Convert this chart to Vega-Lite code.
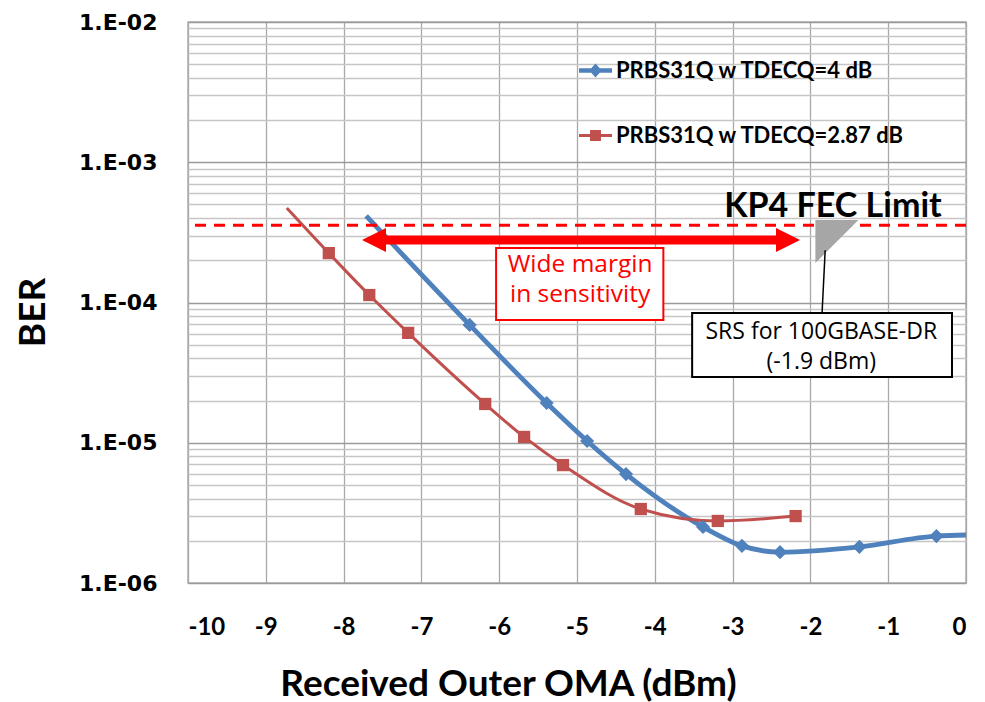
{
  "$schema": "https://vega.github.io/schema/vega-lite/v6.json",
  "autosize": {"type": "none"},
  "padding": {"left": 188, "top": 22, "right": 19, "bottom": 119},
  "width": 778,
  "height": 561,
  "background": "white",
  "config": {
    "view": {"stroke": "#b0b0b0", "strokeWidth": 1.5},
    "font": "Lato"
  },
  "datasets": {
    "curves": [
      {"series": "PRBS31Q w TDECQ=4 dB", "x": -7.71, "ber": 4.14e-4},
      {"series": "PRBS31Q w TDECQ=4 dB", "x": -6.38, "ber": 6.92e-5},
      {"series": "PRBS31Q w TDECQ=4 dB", "x": -5.39, "ber": 1.92e-5},
      {"series": "PRBS31Q w TDECQ=4 dB", "x": -4.87, "ber": 1.03e-5},
      {"series": "PRBS31Q w TDECQ=4 dB", "x": -4.37, "ber": 5.98e-6},
      {"series": "PRBS31Q w TDECQ=4 dB", "x": -3.38, "ber": 2.51e-6},
      {"series": "PRBS31Q w TDECQ=4 dB", "x": -2.88, "ber": 1.84e-6},
      {"series": "PRBS31Q w TDECQ=4 dB", "x": -2.39, "ber": 1.66e-6},
      {"series": "PRBS31Q w TDECQ=4 dB", "x": -1.37, "ber": 1.81e-6},
      {"series": "PRBS31Q w TDECQ=4 dB", "x": -0.38, "ber": 2.16e-6},
      {"series": "PRBS31Q w TDECQ=4 dB", "x": 0.4, "ber": 2.22e-6},
      {"series": "PRBS31Q w TDECQ=2.87 dB", "x": -8.73, "ber": 4.72e-4},
      {"series": "PRBS31Q w TDECQ=2.87 dB", "x": -8.19, "ber": 2.25e-4},
      {"series": "PRBS31Q w TDECQ=2.87 dB", "x": -7.67, "ber": 1.13e-4},
      {"series": "PRBS31Q w TDECQ=2.87 dB", "x": -7.17, "ber": 6.07e-5},
      {"series": "PRBS31Q w TDECQ=2.87 dB", "x": -6.18, "ber": 1.89e-5},
      {"series": "PRBS31Q w TDECQ=2.87 dB", "x": -5.68, "ber": 1.1e-5},
      {"series": "PRBS31Q w TDECQ=2.87 dB", "x": -5.18, "ber": 6.93e-6},
      {"series": "PRBS31Q w TDECQ=2.87 dB", "x": -4.18, "ber": 3.37e-6},
      {"series": "PRBS31Q w TDECQ=2.87 dB", "x": -3.19, "ber": 2.77e-6},
      {"series": "PRBS31Q w TDECQ=2.87 dB", "x": -2.19, "ber": 3.0e-6}
    ]
  },
  "layer": [
    {
      "data": {"name": "curves"},
      "transform": [{"filter": "datum.series === 'PRBS31Q w TDECQ=4 dB'"}],
      "mark": {"type": "line", "interpolate": "monotone", "clip": true, "strokeWidth": 4.8},
      "encoding": {
        "x": {
          "field": "x", "type": "quantitative",
          "scale": {"domain": [-10, 0], "nice": false, "zero": false},
          "axis": {
            "title": "Received Outer OMA (dBm)",
            "values": [-10, -9.5, -9, -8.5, -8, -7.5, -7, -6.5, -6, -5.5, -5, -4.5, -4, -3.5, -3, -2.5, -2, -1.5, -1, -0.5, 0],
            "labelExpr": "datum.value % 1 === 0 ? '' + datum.value : ''",
            "labelOverlap": false,
            "labelFont": "Lato", "labelFontSize": 24, "labelFontWeight": "bold", "labelColor": "#000",
            "labelPadding": 32,
            "ticks": false, "domain": false,
            "grid": true,
            "gridColor": {"condition": {"test": "datum.value % 1 === 0", "value": "#a8a8a8"}, "value": "#dcdcdc"},
            "gridWidth": 1.3,
            "titleFont": "Lato", "titleFontSize": 37, "titleFontWeight": "bold", "titleColor": "#000",
            "titleX": 320, "titleY": 101, "titleBaseline": "middle", "titleAnchor": "middle"
          }
        },
        "y": {
          "field": "ber", "type": "quantitative",
          "scale": {"type": "log", "domain": [1e-6, 1e-2], "nice": false},
          "axis": {
            "title": "BER",
            "values": [1e-6, 2e-6, 3e-6, 4e-6, 5e-6, 6e-6, 7e-6, 8e-6, 9e-6, 1e-5, 2e-5, 3e-5, 4e-5, 5e-5, 6e-5, 7e-5, 8e-5, 9e-5, 1e-4, 2e-4, 3e-4, 4e-4, 5e-4, 6e-4, 7e-4, 8e-4, 9e-4, 1e-3, 2e-3, 3e-3, 4e-3, 5e-3, 6e-3, 7e-3, 8e-3, 9e-3, 1e-2],
            "labelExpr": "abs(log(datum.value)/LN10 - round(log(datum.value)/LN10)) < 0.001 ? '1.E-0' + (-round(log(datum.value)/LN10)) : ''",
            "labelOverlap": false,
            "labelFont": "DejaVu Sans", "labelFontSize": 22, "labelFontWeight": "bold", "labelColor": "#000",
            "labelPadding": 31,
            "ticks": false, "domain": false,
            "grid": true,
            "gridColor": {"condition": {"test": "abs(log(datum.value)/LN10 - round(log(datum.value)/LN10)) < 0.001", "value": "#9a9a9a"}, "value": "#c6c6c6"},
            "gridWidth": 1.3,
            "titleFont": "Lato", "titleFontSize": 37, "titleFontWeight": "bold", "titleColor": "#000",
            "titleX": -155, "titleY": 290, "titleAngle": -90, "titleBaseline": "middle", "titleAnchor": "middle"
          }
        },
        "color": {
          "field": "series", "type": "nominal",
          "scale": {"domain": ["PRBS31Q w TDECQ=4 dB", "PRBS31Q w TDECQ=2.87 dB"], "range": ["#4F81BD", "#C0504D"]},
          "legend": {
            "orient": "none", "legendX": 391, "legendY": 32, "title": null, "padding": 0,
            "labelFont": "Lato", "labelFontSize": 22, "labelFontWeight": "bold", "labelColor": "#000", "labelLimit": 500,
            "symbolSize": 1089, "labelOffset": 4, "rowPadding": 37,
            "encode": {
              "symbols": {
                "update": {
                  "shape": {"signal": "datum.value === 'PRBS31Q w TDECQ=4 dB' ? 'M-1,-0.13H1V0.13H-1Z M0,-0.42L0.38,0L0,0.42L-0.38,0Z' : 'M-1,-0.09H1V0.09H-1Z M-0.33,-0.33H0.33V0.33H-0.33Z'"},
                  "fill": {"signal": "scale('color', datum.value)"},
                  "fillOpacity": {"value": 1},
                  "strokeWidth": {"value": 0}
                }
              }
            }
          }
        }
      }
    },
    {
      "data": {"name": "curves"},
      "transform": [{"filter": "datum.series === 'PRBS31Q w TDECQ=2.87 dB'"}],
      "mark": {"type": "line", "interpolate": "monotone", "clip": true, "strokeWidth": 3},
      "encoding": {
        "x": {"field": "x", "type": "quantitative"},
        "y": {"field": "ber", "type": "quantitative"},
        "color": {"field": "series", "type": "nominal"}
      }
    },
    {
      "data": {"name": "curves"},
      "transform": [
        {"filter": "datum.series === 'PRBS31Q w TDECQ=4 dB' && datum.x > -7.5 && datum.x <= 0"}
      ],
      "mark": {"type": "point", "filled": true, "opacity": 1, "shape": "diamond", "size": 200, "color": "#4F81BD"},
      "encoding": {
        "x": {"field": "x", "type": "quantitative"},
        "y": {"field": "ber", "type": "quantitative"}
      }
    },
    {
      "data": {"name": "curves"},
      "transform": [
        {"filter": "datum.series === 'PRBS31Q w TDECQ=2.87 dB' && datum.x > -8.5"}
      ],
      "mark": {"type": "point", "filled": true, "opacity": 1, "shape": "square", "size": 150, "color": "#C0504D"},
      "encoding": {
        "x": {"field": "x", "type": "quantitative"},
        "y": {"field": "ber", "type": "quantitative"}
      }
    },
    {
      "data": {"values": [{"ber": 3.55e-4}]},
      "mark": {"type": "rule", "color": "#FF0000", "strokeWidth": 3, "strokeDash": [11, 8]},
      "encoding": {"y": {"field": "ber", "type": "quantitative"}}
    },
    {
      "data": {"values": [{"x": -7.5, "x2": -2.4, "ber": 2.79e-4}]},
      "mark": {"type": "rule", "color": "#FF0000", "strokeWidth": 9},
      "encoding": {
        "x": {"field": "x", "type": "quantitative"},
        "x2": {"field": "x2"},
        "y": {"field": "ber", "type": "quantitative"}
      }
    },
    {
      "data": {"values": [{"x": -7.609, "ber": 2.79e-4}]},
      "mark": {"type": "point", "filled": true, "opacity": 1, "color": "#FF0000", "size": 576, "shape": "M-1,0L1,-1L1,1Z"},
      "encoding": {
        "x": {"field": "x", "type": "quantitative"},
        "y": {"field": "ber", "type": "quantitative"}
      }
    },
    {
      "data": {"values": [{"x": -2.288, "ber": 2.79e-4}]},
      "mark": {"type": "point", "filled": true, "opacity": 1, "color": "#FF0000", "size": 576, "shape": "M1,0L-1,-1L-1,1Z"},
      "encoding": {
        "x": {"field": "x", "type": "quantitative"},
        "y": {"field": "ber", "type": "quantitative"}
      }
    },
    {
      "data": {"values": [{"x": -6.04, "x2": -3.89, "y": 2.45e-4, "y2": 7.5e-5}]},
      "mark": {"type": "rect", "fill": "white", "stroke": "#FF0000", "strokeWidth": 2},
      "encoding": {
        "x": {"field": "x", "type": "quantitative"},
        "x2": {"field": "x2"},
        "y": {"field": "y", "type": "quantitative"},
        "y2": {"field": "y2"}
      }
    },
    {
      "data": {"values": [{"x": -4.96, "ber": 1.84e-4, "label": "Wide margin\nin sensitivity"}]},
      "mark": {"type": "text", "color": "#FF0000", "font": "Open Sans", "fontSize": 24.5, "lineBreak": "\n", "lineHeight": 30, "align": "center", "baseline": "middle"},
      "encoding": {
        "x": {"field": "x", "type": "quantitative"},
        "y": {"field": "ber", "type": "quantitative"},
        "text": {"field": "label"}
      }
    },
    {
      "data": {"values": [{"x": -1.66, "ber": 2.72e-4}]},
      "mark": {"type": "point", "filled": true, "opacity": 1, "color": "#A6A6A6", "size": 1849, "shape": "M-1,-1L1,-1L-1,1Z"},
      "encoding": {
        "x": {"field": "x", "type": "quantitative"},
        "y": {"field": "ber", "type": "quantitative"}
      }
    },
    {
      "data": {"values": [{"x": -1.71, "ber": 4.8e-4, "label": "KP4 FEC Limit"}]},
      "mark": {"type": "text", "color": "#000", "font": "Lato", "fontSize": 34, "fontWeight": "bold", "align": "center", "baseline": "middle"},
      "encoding": {
        "x": {"field": "x", "type": "quantitative"},
        "y": {"field": "ber", "type": "quantitative"},
        "text": {"field": "label"}
      }
    },
    {
      "data": {"values": [{"x": -1.81, "x2": -1.85, "y": 2.36e-4, "y2": 8.41e-5}]},
      "mark": {"type": "rule", "color": "#000", "strokeWidth": 1.5},
      "encoding": {
        "x": {"field": "x", "type": "quantitative"},
        "x2": {"field": "x2"},
        "y": {"field": "y", "type": "quantitative"},
        "y2": {"field": "y2"}
      }
    },
    {
      "data": {"values": [{"x": -3.52, "x2": -0.18, "y": 8.41e-5, "y2": 2.94e-5}]},
      "mark": {"type": "rect", "fill": "white", "stroke": "#000", "strokeWidth": 2},
      "encoding": {
        "x": {"field": "x", "type": "quantitative"},
        "x2": {"field": "x2"},
        "y": {"field": "y", "type": "quantitative"},
        "y2": {"field": "y2"}
      }
    },
    {
      "data": {"values": [{"x": -1.86, "ber": 6.2e-5, "label": "SRS for 100GBASE-DR\n(-1.9 dBm)"}]},
      "mark": {"type": "text", "color": "#000", "font": "Open Sans", "fontSize": 23, "lineBreak": "\n", "lineHeight": 30, "align": "center", "baseline": "middle"},
      "encoding": {
        "x": {"field": "x", "type": "quantitative"},
        "y": {"field": "ber", "type": "quantitative"},
        "text": {"field": "label"}
      }
    }
  ]
}
